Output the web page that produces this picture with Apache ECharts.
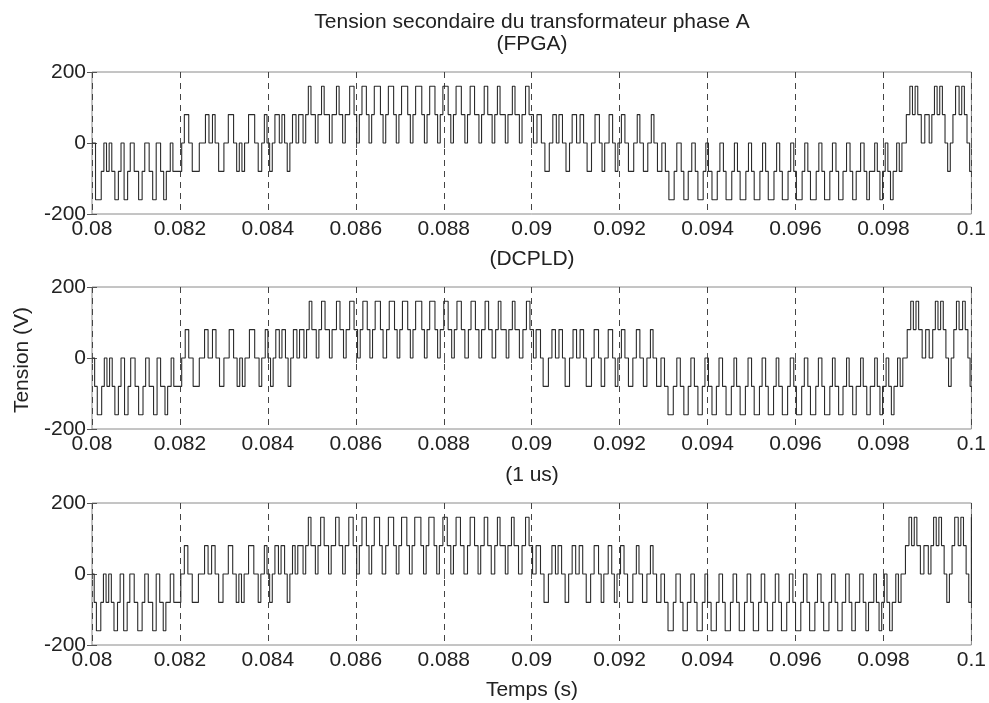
<!DOCTYPE html>
<html>
<head>
<meta charset="utf-8">
<title>Tension secondaire du transformateur phase A</title>
<script src="https://cdn.jsdelivr.net/npm/echarts@6/dist/echarts.min.js"></script>
<style>
  html, body { margin: 0; padding: 0; background: #fff; }
  #chart { width: 989px; height: 703px; }
</style>
</head>
<body>
<div id="chart"></div>
<script>
  // temps : décalage en ms depuis t0 = 0.08 s ; niveau (V) après la commutation
  var t0 = 0.08;
  var mainTitle = 'Tension secondaire du transformateur phase A';
  var panelTitles = ['(FPGA)', '(DCPLD)', '(1 us)'];
  var yTicks = [-200, 0, 200];

  var stepsFPGA = [
    [0,0],[0.08,-160],[0.21,-80],[0.27,0],[0.33,-80],[0.39,0],[0.45,-80],[0.52,-160],[0.6,-80],[0.66,0],
    [0.73,-160],[0.81,-80],[0.87,0],[0.96,-80],[1.06,-160],[1.14,-80],[1.2,0],[1.3,-80],[1.38,-160],[1.46,0],
    [1.56,-80],[1.63,-160],[1.69,-80],[1.78,0],[1.84,-80],[2.04,0],[2.1,80],[2.2,0],[2.28,-80],[2.44,0],
    [2.58,80],[2.66,0],[2.74,80],[2.8,0],[2.88,-80],[3.0,0],[3.1,80],[3.22,0],[3.29,-80],[3.35,0],
    [3.41,-80],[3.47,0],[3.56,80],[3.7,0],[3.78,-80],[3.86,0],[3.92,80],[3.98,0],[4.04,-80],[4.1,0],
    [4.16,80],[4.26,0],[4.32,80],[4.38,0],[4.44,-80],[4.5,0],[4.56,80],[4.64,0],[4.7,80],[4.8,0],
    [4.86,80],[4.92,160],[4.98,80],[5.08,0],[5.14,80],[5.22,160],[5.28,80],[5.4,0],[5.46,80],[5.56,160],
    [5.62,80],[5.7,0],[5.76,80],[5.86,160],[5.96,80],[6.02,0],[6.08,80],[6.14,160],[6.24,80],[6.3,0],
    [6.36,80],[6.42,160],[6.56,80],[6.62,0],[6.68,80],[6.74,160],[6.86,80],[6.92,0],[6.98,80],[7.04,160],
    [7.18,80],[7.24,0],[7.3,80],[7.36,160],[7.5,80],[7.56,0],[7.62,80],[7.68,160],[7.8,80],[7.86,0],
    [7.92,80],[7.98,160],[8.1,80],[8.16,0],[8.22,80],[8.28,160],[8.4,80],[8.48,0],[8.54,80],[8.6,160],
    [8.7,80],[8.8,0],[8.86,80],[8.92,160],[9.0,80],[9.1,0],[9.16,80],[9.22,160],[9.28,80],[9.4,0],
    [9.46,80],[9.56,160],[9.62,80],[9.72,0],[9.78,80],[9.86,160],[9.94,80],[10.04,0],[10.12,80],[10.22,0],
    [10.3,-80],[10.4,0],[10.48,80],[10.56,0],[10.62,80],[10.7,0],[10.78,-80],[10.86,0],[10.92,80],[11.02,0],
    [11.1,80],[11.18,0],[11.26,-80],[11.36,0],[11.44,80],[11.54,0],[11.6,-80],[11.66,0],[11.76,80],[11.84,0],
    [11.9,-80],[11.96,0],[12.04,80],[12.12,0],[12.2,-80],[12.32,0],[12.4,80],[12.46,0],[12.54,-80],[12.64,0],
    [12.72,80],[12.78,0],[12.86,-80],[12.96,0],[13.04,-80],[13.12,-160],[13.24,-80],[13.3,0],[13.4,-80],[13.46,-160],
    [13.56,-80],[13.64,0],[13.72,-80],[13.78,-160],[13.9,-80],[13.96,0],[14.02,-80],[14.1,-160],[14.22,-80],[14.28,0],
    [14.36,-80],[14.42,-160],[14.55,-80],[14.61,0],[14.68,-80],[14.74,-160],[14.87,-80],[14.93,0],[15.0,-80],[15.06,-160],
    [15.19,-80],[15.25,0],[15.32,-80],[15.38,-160],[15.51,-80],[15.57,0],[15.64,-80],[15.7,-160],[15.83,-80],[15.89,0],
    [15.96,-80],[16.02,-160],[16.15,-80],[16.21,0],[16.28,-80],[16.34,-160],[16.47,-80],[16.53,0],[16.6,-80],[16.66,-160],
    [16.78,-80],[16.84,0],[16.92,-80],[16.98,-160],[17.08,-80],[17.16,0],[17.24,-80],[17.3,-160],[17.38,-80],[17.48,0],
    [17.56,-80],[17.62,-160],[17.68,-80],[17.8,0],[17.86,-80],[17.92,-160],[17.98,-80],[18.04,0],[18.1,-80],[18.16,-160],
    [18.22,-80],[18.3,0],[18.36,-80],[18.42,0],[18.52,80],[18.6,160],[18.66,80],[18.72,160],[18.78,80],[18.86,0],
    [18.94,80],[19.04,0],[19.1,80],[19.16,160],[19.22,80],[19.28,160],[19.34,80],[19.4,0],[19.46,-80],[19.52,0],
    [19.58,80],[19.64,160],[19.72,80],[19.78,160],[19.84,80],[19.9,0],[19.96,-80],[20,-80]
  ];

  var stepsDCPLD = [
    [0,0],[0.06,-80],[0.12,-160],[0.22,-80],[0.28,0],[0.34,-80],[0.4,0],[0.46,-80],[0.52,-160],[0.6,-80],
    [0.66,0],[0.74,-160],[0.82,-80],[0.88,0],[0.98,-80],[1.06,-160],[1.16,-80],[1.22,0],[1.3,-80],[1.4,-160],
    [1.48,0],[1.56,-80],[1.66,-160],[1.72,-80],[1.8,0],[1.86,-80],[2.04,0],[2.12,80],[2.2,0],[2.3,-80],
    [2.44,0],[2.56,80],[2.64,0],[2.74,80],[2.82,0],[2.9,-80],[3.0,0],[3.12,80],[3.22,0],[3.3,-80],
    [3.36,0],[3.42,-80],[3.48,0],[3.58,80],[3.7,0],[3.8,-80],[3.86,0],[3.94,80],[4.0,0],[4.06,-80],
    [4.12,0],[4.18,80],[4.26,0],[4.32,80],[4.4,0],[4.46,-80],[4.52,0],[4.58,80],[4.66,0],[4.72,80],
    [4.82,0],[4.88,80],[4.94,160],[5.0,80],[5.1,0],[5.16,80],[5.22,160],[5.3,80],[5.4,0],[5.46,80],
    [5.56,160],[5.64,80],[5.72,0],[5.78,80],[5.86,160],[5.96,80],[6.04,0],[6.1,80],[6.16,160],[6.26,80],
    [6.32,0],[6.38,80],[6.44,160],[6.56,80],[6.62,0],[6.7,80],[6.76,160],[6.88,80],[6.94,0],[7.0,80],
    [7.06,160],[7.18,80],[7.24,0],[7.3,80],[7.36,160],[7.5,80],[7.56,0],[7.62,80],[7.68,160],[7.8,80],
    [7.86,0],[7.92,80],[8.0,160],[8.1,80],[8.18,0],[8.24,80],[8.3,160],[8.4,80],[8.48,0],[8.56,80],
    [8.62,160],[8.72,80],[8.8,0],[8.86,80],[8.94,160],[9.02,80],[9.1,0],[9.18,80],[9.24,160],[9.3,80],
    [9.42,0],[9.48,80],[9.56,160],[9.62,80],[9.72,0],[9.8,80],[9.88,160],[9.96,80],[10.04,0],[10.1,80],
    [10.2,0],[10.26,-80],[10.38,0],[10.46,80],[10.54,0],[10.62,80],[10.7,0],[10.76,-80],[10.86,0],[10.94,80],
    [11.02,0],[11.1,80],[11.18,0],[11.24,-80],[11.36,0],[11.42,80],[11.52,0],[11.58,-80],[11.66,0],[11.74,80],
    [11.84,0],[11.9,-80],[11.96,0],[12.04,80],[12.12,0],[12.2,-80],[12.3,0],[12.38,80],[12.46,0],[12.54,-80],
    [12.62,0],[12.7,80],[12.76,0],[12.84,-80],[12.94,0],[13.02,-80],[13.1,-160],[13.22,-80],[13.3,0],[13.38,-80],
    [13.46,-160],[13.56,-80],[13.62,0],[13.7,-80],[13.78,-160],[13.88,-80],[13.94,0],[14.02,-80],[14.1,-160],[14.2,-80],
    [14.26,0],[14.34,-80],[14.42,-160],[14.54,-80],[14.6,0],[14.66,-80],[14.74,-160],[14.86,-80],[14.92,0],[15.0,-80],
    [15.06,-160],[15.18,-80],[15.24,0],[15.32,-80],[15.38,-160],[15.5,-80],[15.56,0],[15.62,-80],[15.7,-160],[15.82,-80],
    [15.88,0],[15.96,-80],[16.02,-160],[16.14,-80],[16.2,0],[16.28,-80],[16.34,-160],[16.46,-80],[16.52,0],[16.6,-80],
    [16.66,-160],[16.78,-80],[16.84,0],[16.9,-80],[16.98,-160],[17.08,-80],[17.16,0],[17.22,-80],[17.3,-160],[17.38,-80],
    [17.48,0],[17.54,-80],[17.62,-160],[17.7,-80],[17.8,0],[17.86,-80],[17.92,-160],[17.98,-80],[18.06,0],[18.12,-80],
    [18.18,-160],[18.24,-80],[18.32,0],[18.38,-80],[18.44,0],[18.54,80],[18.62,160],[18.68,80],[18.74,160],[18.8,80],
    [18.88,0],[18.96,80],[19.04,0],[19.12,80],[19.18,160],[19.24,80],[19.3,160],[19.36,80],[19.42,0],[19.48,-80],
    [19.54,0],[19.6,80],[19.66,160],[19.72,80],[19.8,160],[19.86,80],[19.92,0],[19.97,-80],[20,-80]
  ];

  var steps1us = [
    [0,0],[0.05,-80],[0.1,-160],[0.2,-80],[0.26,0],[0.32,-80],[0.38,0],[0.44,-80],[0.5,-160],[0.58,-80],
    [0.64,0],[0.72,-160],[0.8,-80],[0.86,0],[0.96,-80],[1.04,-160],[1.14,-80],[1.2,0],[1.28,-80],[1.38,-160],
    [1.46,0],[1.54,-80],[1.62,-160],[1.68,-80],[1.78,0],[1.86,-80],[2.02,0],[2.1,80],[2.18,0],[2.28,-80],
    [2.42,0],[2.56,80],[2.64,0],[2.72,80],[2.8,0],[2.88,-80],[2.98,0],[3.1,80],[3.2,0],[3.28,-80],
    [3.34,0],[3.4,-80],[3.46,0],[3.56,80],[3.68,0],[3.78,-80],[3.84,0],[3.92,80],[3.98,0],[4.04,-80],
    [4.1,0],[4.16,80],[4.24,0],[4.3,80],[4.38,0],[4.44,-80],[4.5,0],[4.56,80],[4.62,0],[4.68,80],
    [4.8,0],[4.86,80],[4.92,160],[4.98,80],[5.08,0],[5.14,80],[5.2,160],[5.28,80],[5.38,0],[5.44,80],
    [5.54,160],[5.62,80],[5.7,0],[5.76,80],[5.84,160],[5.94,80],[6.02,0],[6.08,80],[6.14,160],[6.24,80],
    [6.3,0],[6.36,80],[6.42,160],[6.54,80],[6.6,0],[6.68,80],[6.74,160],[6.86,80],[6.92,0],[6.98,80],
    [7.04,160],[7.16,80],[7.22,0],[7.28,80],[7.34,160],[7.48,80],[7.54,0],[7.6,80],[7.66,160],[7.78,80],
    [7.84,0],[7.9,80],[7.98,160],[8.08,80],[8.16,0],[8.22,80],[8.28,160],[8.38,80],[8.46,0],[8.54,80],
    [8.6,160],[8.7,80],[8.78,0],[8.84,80],[8.92,160],[9.0,80],[9.08,0],[9.16,80],[9.22,160],[9.28,80],
    [9.4,0],[9.46,80],[9.54,160],[9.6,80],[9.7,0],[9.78,80],[9.86,160],[9.94,80],[10.02,0],[10.1,80],
    [10.2,0],[10.28,-80],[10.38,0],[10.46,80],[10.54,0],[10.6,80],[10.68,0],[10.76,-80],[10.84,0],[10.92,80],
    [11.0,0],[11.08,80],[11.16,0],[11.24,-80],[11.34,0],[11.42,80],[11.52,0],[11.58,-80],[11.64,0],[11.74,80],
    [11.82,0],[11.88,-80],[11.94,0],[12.02,80],[12.1,0],[12.18,-80],[12.3,0],[12.38,80],[12.44,0],[12.52,-80],
    [12.62,0],[12.7,80],[12.76,0],[12.84,-80],[12.94,0],[13.02,-80],[13.1,-160],[13.22,-80],[13.28,0],[13.38,-80],
    [13.44,-160],[13.54,-80],[13.62,0],[13.7,-80],[13.76,-160],[13.88,-80],[13.94,0],[14.0,-80],[14.08,-160],[14.2,-80],
    [14.26,0],[14.34,-80],[14.4,-160],[14.52,-80],[14.58,0],[14.66,-80],[14.72,-160],[14.84,-80],[14.9,0],[14.98,-80],
    [15.04,-160],[15.16,-80],[15.22,0],[15.3,-80],[15.36,-160],[15.48,-80],[15.54,0],[15.62,-80],[15.68,-160],[15.8,-80],
    [15.86,0],[15.94,-80],[16.0,-160],[16.12,-80],[16.18,0],[16.26,-80],[16.32,-160],[16.44,-80],[16.5,0],[16.58,-80],
    [16.64,-160],[16.76,-80],[16.82,0],[16.9,-80],[16.96,-160],[17.06,-80],[17.14,0],[17.22,-80],[17.28,-160],[17.36,-80],
    [17.46,0],[17.54,-80],[17.6,-160],[17.66,-80],[17.78,0],[17.84,-80],[17.9,-160],[17.96,-80],[18.02,0],[18.08,-80],
    [18.14,-160],[18.2,-80],[18.28,0],[18.34,-80],[18.4,0],[18.5,80],[18.58,160],[18.64,80],[18.7,160],[18.76,80],
    [18.84,0],[18.92,80],[19.02,0],[19.08,80],[19.14,160],[19.2,80],[19.26,160],[19.32,80],[19.38,0],[19.44,-80],
    [19.5,0],[19.56,80],[19.62,160],[19.7,80],[19.76,160],[19.82,80],[19.88,0],[19.94,-80],[20,160]
  ];

  var panels = [stepsFPGA, stepsDCPLD, steps1us];
  var gridTops = [72, 287, 503];
  var font = '"Liberation Sans", Arial, sans-serif';

  function fmtTime(v) {
    return String(parseFloat((t0 + v / 1000).toFixed(3)));
  }

  var grids = [], xAxes = [], yAxes = [], series = [];
  panels.forEach(function (data, i) {
    grids.push({
      left: 92, width: 880, top: gridTops[i], height: 142,
      show: true, borderColor: '#8a8a8a', borderWidth: 1
    });
    // axe du bas avec les étiquettes + quadrillage vertical en tirets
    xAxes.push({
      type: 'value', gridIndex: i, min: 0, max: 20, interval: 2,
      axisLine: { show: false },
      axisTick: { show: true, inside: true, length: 5, lineStyle: { color: '#555' } },
      axisLabel: { formatter: fmtTime, color: '#222', fontSize: 21, fontFamily: font, margin: 5 },
      splitLine: { show: true, lineStyle: { color: '#444', type: [6, 5], width: 1 } }
    });
    // axe du haut, juste pour les graduations
    xAxes.push({
      type: 'value', gridIndex: i, position: 'top', min: 0, max: 20, interval: 2,
      axisLine: { show: false },
      axisTick: { show: true, inside: true, length: 5, lineStyle: { color: '#555' } },
      axisLabel: { show: false }, splitLine: { show: false }
    });
    yAxes.push({
      type: 'value', gridIndex: i, min: yTicks[0], max: yTicks[2], interval: 200,
      axisLine: { show: false },
      axisTick: { show: true, inside: true, length: 5, lineStyle: { color: '#555' } },
      axisLabel: { color: '#222', fontSize: 21, fontFamily: font, margin: 6 },
      splitLine: { show: false }
    });
    yAxes.push({
      type: 'value', gridIndex: i, position: 'right', min: yTicks[0], max: yTicks[2], interval: 200,
      axisLine: { show: false },
      axisTick: { show: true, inside: true, length: 5, lineStyle: { color: '#555' } },
      axisLabel: { show: false }, splitLine: { show: false }
    });
    series.push({
      name: panelTitles[i],
      type: 'line', step: 'end',
      xAxisIndex: i * 2, yAxisIndex: i * 2,
      data: data,
      showSymbol: false, symbol: 'none',
      lineStyle: { color: '#2b2b2b', width: 1.1 },
      animation: false, silent: true
    });
  });

  function label(text, x, y, rot) {
    return {
      type: 'text', x: x, y: y, rotation: rot || 0, silent: true,
      style: {
        text: text, fill: '#222', font: '21px ' + font,
        align: 'center', verticalAlign: 'middle'
      }
    };
  }

  var chart = echarts.init(document.getElementById('chart'));
  chart.setOption({
    animation: false,
    backgroundColor: '#fff',
    grid: grids,
    xAxis: xAxes,
    yAxis: yAxes,
    series: series,
    graphic: [
      label(mainTitle, 532, 22),
      label(panelTitles[0], 532, 44),
      label(panelTitles[1], 532, 259),
      label(panelTitles[2], 532, 475),
      label('Tension (V)', 22, 360, Math.PI / 2),
      label('Temps (s)', 532, 690)
    ]
  });
</script>
</body>
</html>
